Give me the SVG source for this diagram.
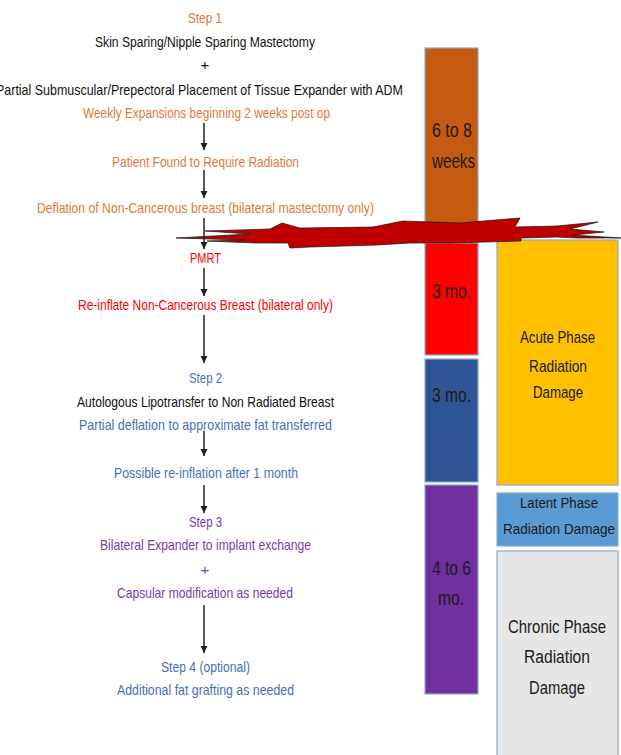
<svg xmlns="http://www.w3.org/2000/svg" width="621" height="755" viewBox="0 0 621 755">
<style>
text{font-family:"Liberation Sans",Arial,sans-serif;font-size:15px}
.or{fill:#E07A3A}.bk{fill:#111}.rd{fill:#FF0000}.bl{fill:#4A6EB8}.pu{fill:#7A3AAC}
.bar{stroke:#8EA9C8;stroke-width:1.2}
.bt{font-size:20px;fill:#1a1a1a;text-anchor:middle}
.pt{font-size:17px;fill:#1a1a1a;text-anchor:middle}
.lt{font-size:14.5px;fill:#1a1a1a;text-anchor:middle}
.ct{font-size:17.5px;fill:#1a1a1a;text-anchor:middle}
.ar{stroke:#1f1f1f;stroke-width:1.5;fill:none;marker-end:url(#ah)}
</style>
<defs>
<marker id="ah" markerUnits="userSpaceOnUse" markerWidth="8" markerHeight="9" refX="7" refY="4" orient="auto">
<path d="M0,0.5 L7,4 L0,7.5 Z" fill="#1f1f1f"/>
</marker>
</defs>
<rect width="621" height="755" fill="#fff"/>

<g id="bar-6to8">
<rect class="bar" x="425" y="48" width="53" height="185" fill="#C55A11"/>
<text class="bt" x="452" y="137" textLength="40" lengthAdjust="spacingAndGlyphs">6 to 8</text>
<text class="bt" x="453.5" y="168" textLength="43" lengthAdjust="spacingAndGlyphs">weeks</text>
</g>
<g id="bar-3mo-red">
<rect class="bar" x="425" y="243" width="53" height="112" fill="#FF0000"/>
<text class="bt" x="451.5" y="298" textLength="39" lengthAdjust="spacingAndGlyphs">3 mo.</text>
</g>
<g id="bar-3mo-blue">
<rect class="bar" x="425" y="359" width="53" height="123" fill="#2F5597"/>
<text class="bt" x="451.5" y="402" textLength="39" lengthAdjust="spacingAndGlyphs">3 mo.</text>
</g>
<g id="bar-4to6">
<rect class="bar" x="425" y="485" width="53" height="209" fill="#7030A0"/>
<text class="bt" x="451.5" y="575" textLength="39" lengthAdjust="spacingAndGlyphs">4 to 6</text>
<text class="bt" x="451" y="605" textLength="26" lengthAdjust="spacingAndGlyphs">mo.</text>
</g>
<g id="acute">
<rect class="bar" x="497" y="240" width="121" height="245" fill="#FFC000"/>
<text class="pt" x="557.5" y="343" textLength="75" lengthAdjust="spacingAndGlyphs">Acute Phase</text>
<text class="pt" x="558" y="372" textLength="58" lengthAdjust="spacingAndGlyphs">Radiation</text>
<text class="pt" x="558" y="398" textLength="50" lengthAdjust="spacingAndGlyphs">Damage</text>
</g>
<g id="latent">
<rect class="bar" x="497" y="493" width="121" height="53" fill="#5B9BD5"/>
<text class="lt" x="559" y="508" textLength="78" lengthAdjust="spacingAndGlyphs">Latent Phase</text>
<text class="lt" x="559" y="534" textLength="112" lengthAdjust="spacingAndGlyphs">Radiation Damage</text>
</g>
<g id="chronic">
<rect class="bar" x="497" y="551" width="121" height="210" fill="#E7E6E6"/>
<text class="ct" x="557" y="633" textLength="98" lengthAdjust="spacingAndGlyphs">Chronic Phase</text>
<text class="ct" x="557" y="663" textLength="66" lengthAdjust="spacingAndGlyphs">Radiation</text>
<text class="ct" x="557" y="694" textLength="56" lengthAdjust="spacingAndGlyphs">Damage</text>
</g>

<g id="bolt">
<path d="M176,238 L250,234 L205,231 L270,229 L282,223 L300,228 L373,227 L403,221 L460,223 L520,218 L515,227 L557,226 L598,222 L570,229 L604,232 L573,235 L621,238 L577,238 L557,237 L521,238 L521,241 L450,243 L410,243 L377,245 L310,247 L290,248 L288,243 L255,243 L207,241 L245,240 Z" fill="#C00000" stroke="#111" stroke-width="0.7" stroke-linejoin="miter"/>
</g>

<g id="step1">
<text class="or" x="188" y="23" textLength="34" lengthAdjust="spacingAndGlyphs">Step 1</text>
<text class="bk" x="95" y="47" textLength="220" lengthAdjust="spacingAndGlyphs">Skin Sparing/Nipple Sparing Mastectomy</text>
<text class="bk" x="205" y="70" text-anchor="middle">+</text>
<text class="bk" x="-4" y="95" textLength="407" lengthAdjust="spacingAndGlyphs">Partial Submuscular/Prepectoral Placement of Tissue Expander with ADM</text>
<text class="or" x="83" y="118" textLength="247" lengthAdjust="spacingAndGlyphs">Weekly Expansions beginning 2 weeks post op</text>
</g>
<g id="radiation-needed">
<text class="or" x="112" y="167" textLength="187" lengthAdjust="spacingAndGlyphs">Patient Found to Require Radiation</text>
</g>
<g id="deflation">
<text class="or" x="37" y="213" textLength="337" lengthAdjust="spacingAndGlyphs">Deflation of Non-Cancerous breast (bilateral mastectomy only)</text>
</g>
<g id="pmrt">
<text class="rd" x="190" y="263" textLength="31" lengthAdjust="spacingAndGlyphs">PMRT</text>
</g>
<g id="reinflate">
<text class="rd" x="78" y="310" textLength="255" lengthAdjust="spacingAndGlyphs">Re-inflate Non-Cancerous Breast (bilateral only)</text>
</g>
<g id="step2">
<text class="bl" x="189" y="383" textLength="33" lengthAdjust="spacingAndGlyphs">Step 2</text>
<text class="bk" x="77" y="407" textLength="257" lengthAdjust="spacingAndGlyphs">Autologous Lipotransfer to Non Radiated Breast</text>
<text class="bl" x="79" y="430" textLength="253" lengthAdjust="spacingAndGlyphs">Partial deflation to approximate fat transferred</text>
</g>
<g id="reinflation">
<text class="bl" x="114" y="478" textLength="184" lengthAdjust="spacingAndGlyphs">Possible re-inflation after 1 month</text>
</g>
<g id="step3">
<text class="pu" x="189" y="527" textLength="33" lengthAdjust="spacingAndGlyphs">Step 3</text>
<text class="pu" x="100" y="550" textLength="211" lengthAdjust="spacingAndGlyphs">Bilateral Expander to implant exchange</text>
<text class="pu" x="205" y="575" text-anchor="middle">+</text>
<text class="pu" x="117" y="598" textLength="176" lengthAdjust="spacingAndGlyphs">Capsular modification as needed</text>
</g>
<g id="step4">
<text class="bl" x="161" y="672" textLength="89" lengthAdjust="spacingAndGlyphs">Step 4 (optional)</text>
<text class="bl" x="117" y="695" textLength="177" lengthAdjust="spacingAndGlyphs">Additional fat grafting as needed</text>
</g>

<g id="connectors">
<line class="ar" x1="204" y1="123" x2="204" y2="150"/>
<line class="ar" x1="204" y1="170" x2="204" y2="198"/>
<line class="ar" x1="204" y1="218" x2="204" y2="249"/>
<line class="ar" x1="204" y1="268" x2="204" y2="296"/>
<line class="ar" x1="204" y1="315" x2="204" y2="363"/>
<line class="ar" x1="204" y1="431" x2="204" y2="456"/>
<line class="ar" x1="204" y1="485" x2="204" y2="513"/>
<line class="ar" x1="204" y1="605" x2="204" y2="653"/>
</g>
</svg>
